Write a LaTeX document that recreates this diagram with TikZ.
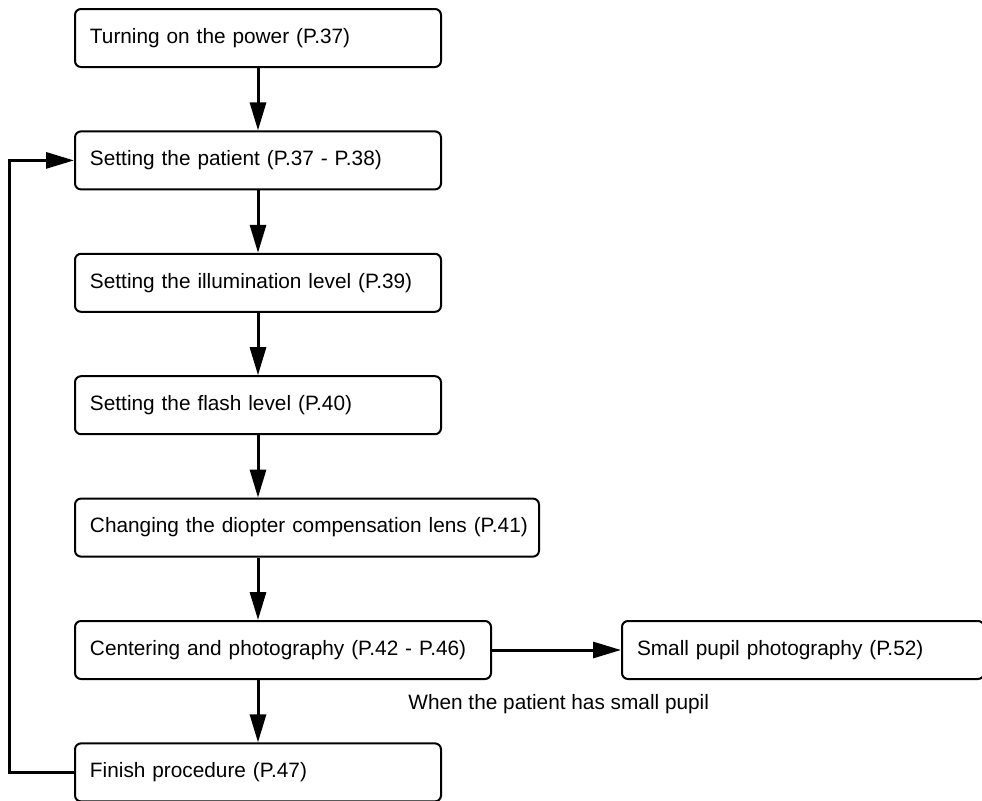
\documentclass[tikz,border=0pt]{standalone}
\usepackage{fontspec}
\setmainfont{Liberation Sans}
\usetikzlibrary{arrows.meta,positioning}

\begin{document}
\begin{tikzpicture}[
  font=\fontsize{10.4}{12.5}\selectfont,
  >={Triangle[length=14pt, width=8pt]},
  stepbox/.style={draw=black, rounded corners=3pt, align=left, anchor=north west,
                  text width=168pt, minimum height=29pt, inner xsep=7.5pt, line width=1pt},
  flow/.style={->, line width=1.5pt},
  node distance=31.2pt,
]
\useasboundingbox (0,0) rectangle (491pt,-400pt);
\node[stepbox] (power) at (37pt,-4pt) {Turning on the power (P.37)};
\node[below=of power.south west, stepbox] (patient) {Setting the patient (P.37 - P.38)};
\node[below=of patient.south west, stepbox] (illum) {Setting the illumination level (P.39)};
\node[below=of illum.south west, stepbox] (flash) {Setting the flash level (P.40)};
\node[below=of flash.south west, stepbox, text width=217pt] (diopter) {\mbox{Changing the diopter compensation lens (P.41)}};
\node[below=of diopter.south west, stepbox, text width=193pt] (centre) {Centering and photography (P.42 - P.46)};
\node[below=of centre.south west, stepbox] (finish) {Finish procedure (P.47)};
\node[right=64.5pt of centre, stepbox, anchor=west, text width=166pt] (pupil) {Small pupil photography (P.52)};
\node[below=12pt of centre.south east, anchor=west, xshift=-42pt, inner sep=0pt] (cond) {When the patient has small pupil};
\coordinate (back) at (4.7pt,0);

\draw[flow] (power) -- (patient);
\draw[flow] (patient) -- (illum);
\draw[flow] (illum) -- (flash);
\draw[flow] (flash.south) -- (diopter.north -| flash.south);
\draw[flow] (diopter.south -| power) -- (centre.north -| power);
\draw[flow] (centre.south -| power) -- (finish.north);
\draw[flow] (centre) -- (pupil);
% back to the patient
\draw[flow] (finish.west) -- (finish.west -| back) |- (patient.west);
\end{tikzpicture}
\end{document}
